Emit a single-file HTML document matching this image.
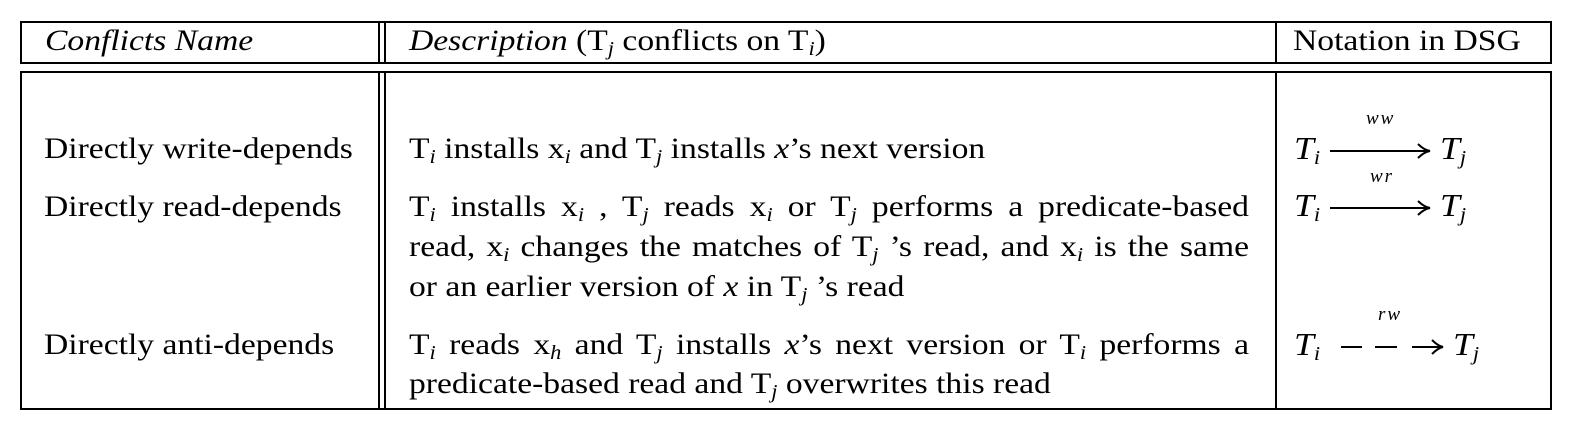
<!DOCTYPE html>
<html><head><meta charset="utf-8"><style>
body{margin:0;background:#fff;width:1574px;height:434px;overflow:hidden;position:relative;font-family:"Liberation Serif",serif;color:#000}
.l{position:absolute;background:#000}
.t{position:absolute;font-size:30px;white-space:nowrap;line-height:1;transform:scaleX(1.12);transform-origin:0 0}
.j{position:absolute;font-size:30px;width:750px;text-align:justify;text-align-last:justify;white-space:nowrap;line-height:1;left:409px;transform:scaleX(1.12);transform-origin:0 0}
sub{font-style:italic;font-size:20px;vertical-align:-5px;line-height:0}
i{font-style:italic}
.m{font-style:italic;font-size:32px}
.lab{position:absolute;font-style:italic;font-size:19px;letter-spacing:2px}
</style></head><body>
<div class="l" style="left:20px;top:21px;width:1532px;height:2px"></div>
<div class="l" style="left:20px;top:62px;width:1532px;height:2px"></div>
<div class="l" style="left:20px;top:21px;width:2px;height:43px"></div>
<div class="l" style="left:1550px;top:21px;width:2px;height:43px"></div>
<div class="l" style="left:378px;top:21px;width:2px;height:43px"></div>
<div class="l" style="left:384px;top:21px;width:2px;height:43px"></div>
<div class="l" style="left:1275px;top:21px;width:2px;height:43px"></div>
<div class="l" style="left:20px;top:71px;width:1532px;height:2px"></div>
<div class="l" style="left:20px;top:408px;width:1532px;height:2px"></div>
<div class="l" style="left:20px;top:71px;width:2px;height:339px"></div>
<div class="l" style="left:1550px;top:71px;width:2px;height:339px"></div>
<div class="l" style="left:378px;top:71px;width:2px;height:339px"></div>
<div class="l" style="left:384px;top:71px;width:2px;height:339px"></div>
<div class="l" style="left:1275px;top:71px;width:2px;height:339px"></div>

<div class="t" style="left:45px;top:26px"><i>Conflicts Name</i></div>
<div class="t" style="left:409px;top:26px"><i>Description</i> (T<sub>j</sub> conflicts on T<sub>i</sub>)</div>
<div class="t" style="left:1293px;top:26px">Notation in DSG</div>

<div class="t" style="left:44px;top:134px">Directly write-depends</div>
<div class="t" style="left:44px;top:192px">Directly read-depends</div>
<div class="t" style="left:44px;top:330px">Directly anti-depends</div>

<div class="t" style="left:409px;top:134px">T<sub>i</sub> installs x<sub>i</sub> and T<sub>j</sub> installs <i>x</i>’s next version</div>
<div class="j" style="top:192px">T<sub>i</sub> installs x<sub>i</sub> , T<sub>j</sub> reads x<sub>i</sub> or T<sub>j</sub> performs a predicate-based</div>
<div class="j" style="top:232px">read, x<sub>i</sub> changes the matches of T<sub>j</sub> ’s read, and x<sub>i</sub> is the same</div>
<div class="t" style="left:409px;top:272px">or an earlier version of <i>x</i> in T<sub>j</sub> ’s read</div>
<div class="j" style="top:330px">T<sub>i</sub> reads x<sub>h</sub> and T<sub>j</sub> installs <i>x</i>’s next version or T<sub>i</sub> performs a</div>
<div class="t" style="left:409px;top:369px">predicate-based read and T<sub>j</sub> overwrites this read</div>

<div class="t m" style="left:1294px;top:132px">T<sub>i</sub></div>
<div class="t m" style="left:1440px;top:132px">T<sub>j</sub></div>
<div class="lab" style="left:1366px;top:108px">ww</div>
<svg style="position:absolute;left:0;top:0" width="1574" height="434">
<g stroke="#000" stroke-width="2" fill="none">
<line x1="1330" y1="151" x2="1428" y2="151"/><path d="M1418 144 Q1424 150 1430 151 Q1424 152 1418 158"/>
<line x1="1330" y1="208" x2="1428" y2="208"/><path d="M1418 201 Q1424 207 1430 208 Q1424 209 1418 215"/>
<line x1="1341" y1="347" x2="1362" y2="347"/><line x1="1375" y1="347" x2="1397" y2="347"/><line x1="1412" y1="347" x2="1441" y2="347"/><path d="M1432 340 Q1438 346 1443 347 Q1438 348 1432 354"/>
</g></svg>
<div class="t m" style="left:1294px;top:189px">T<sub>i</sub></div>
<div class="t m" style="left:1440px;top:189px">T<sub>j</sub></div>
<div class="lab" style="left:1370px;top:166px">wr</div>
<div class="t m" style="left:1294px;top:328px">T<sub>i</sub></div>
<div class="t m" style="left:1453px;top:328px">T<sub>j</sub></div>
<div class="lab" style="left:1378px;top:304px">rw</div>
</body></html>
